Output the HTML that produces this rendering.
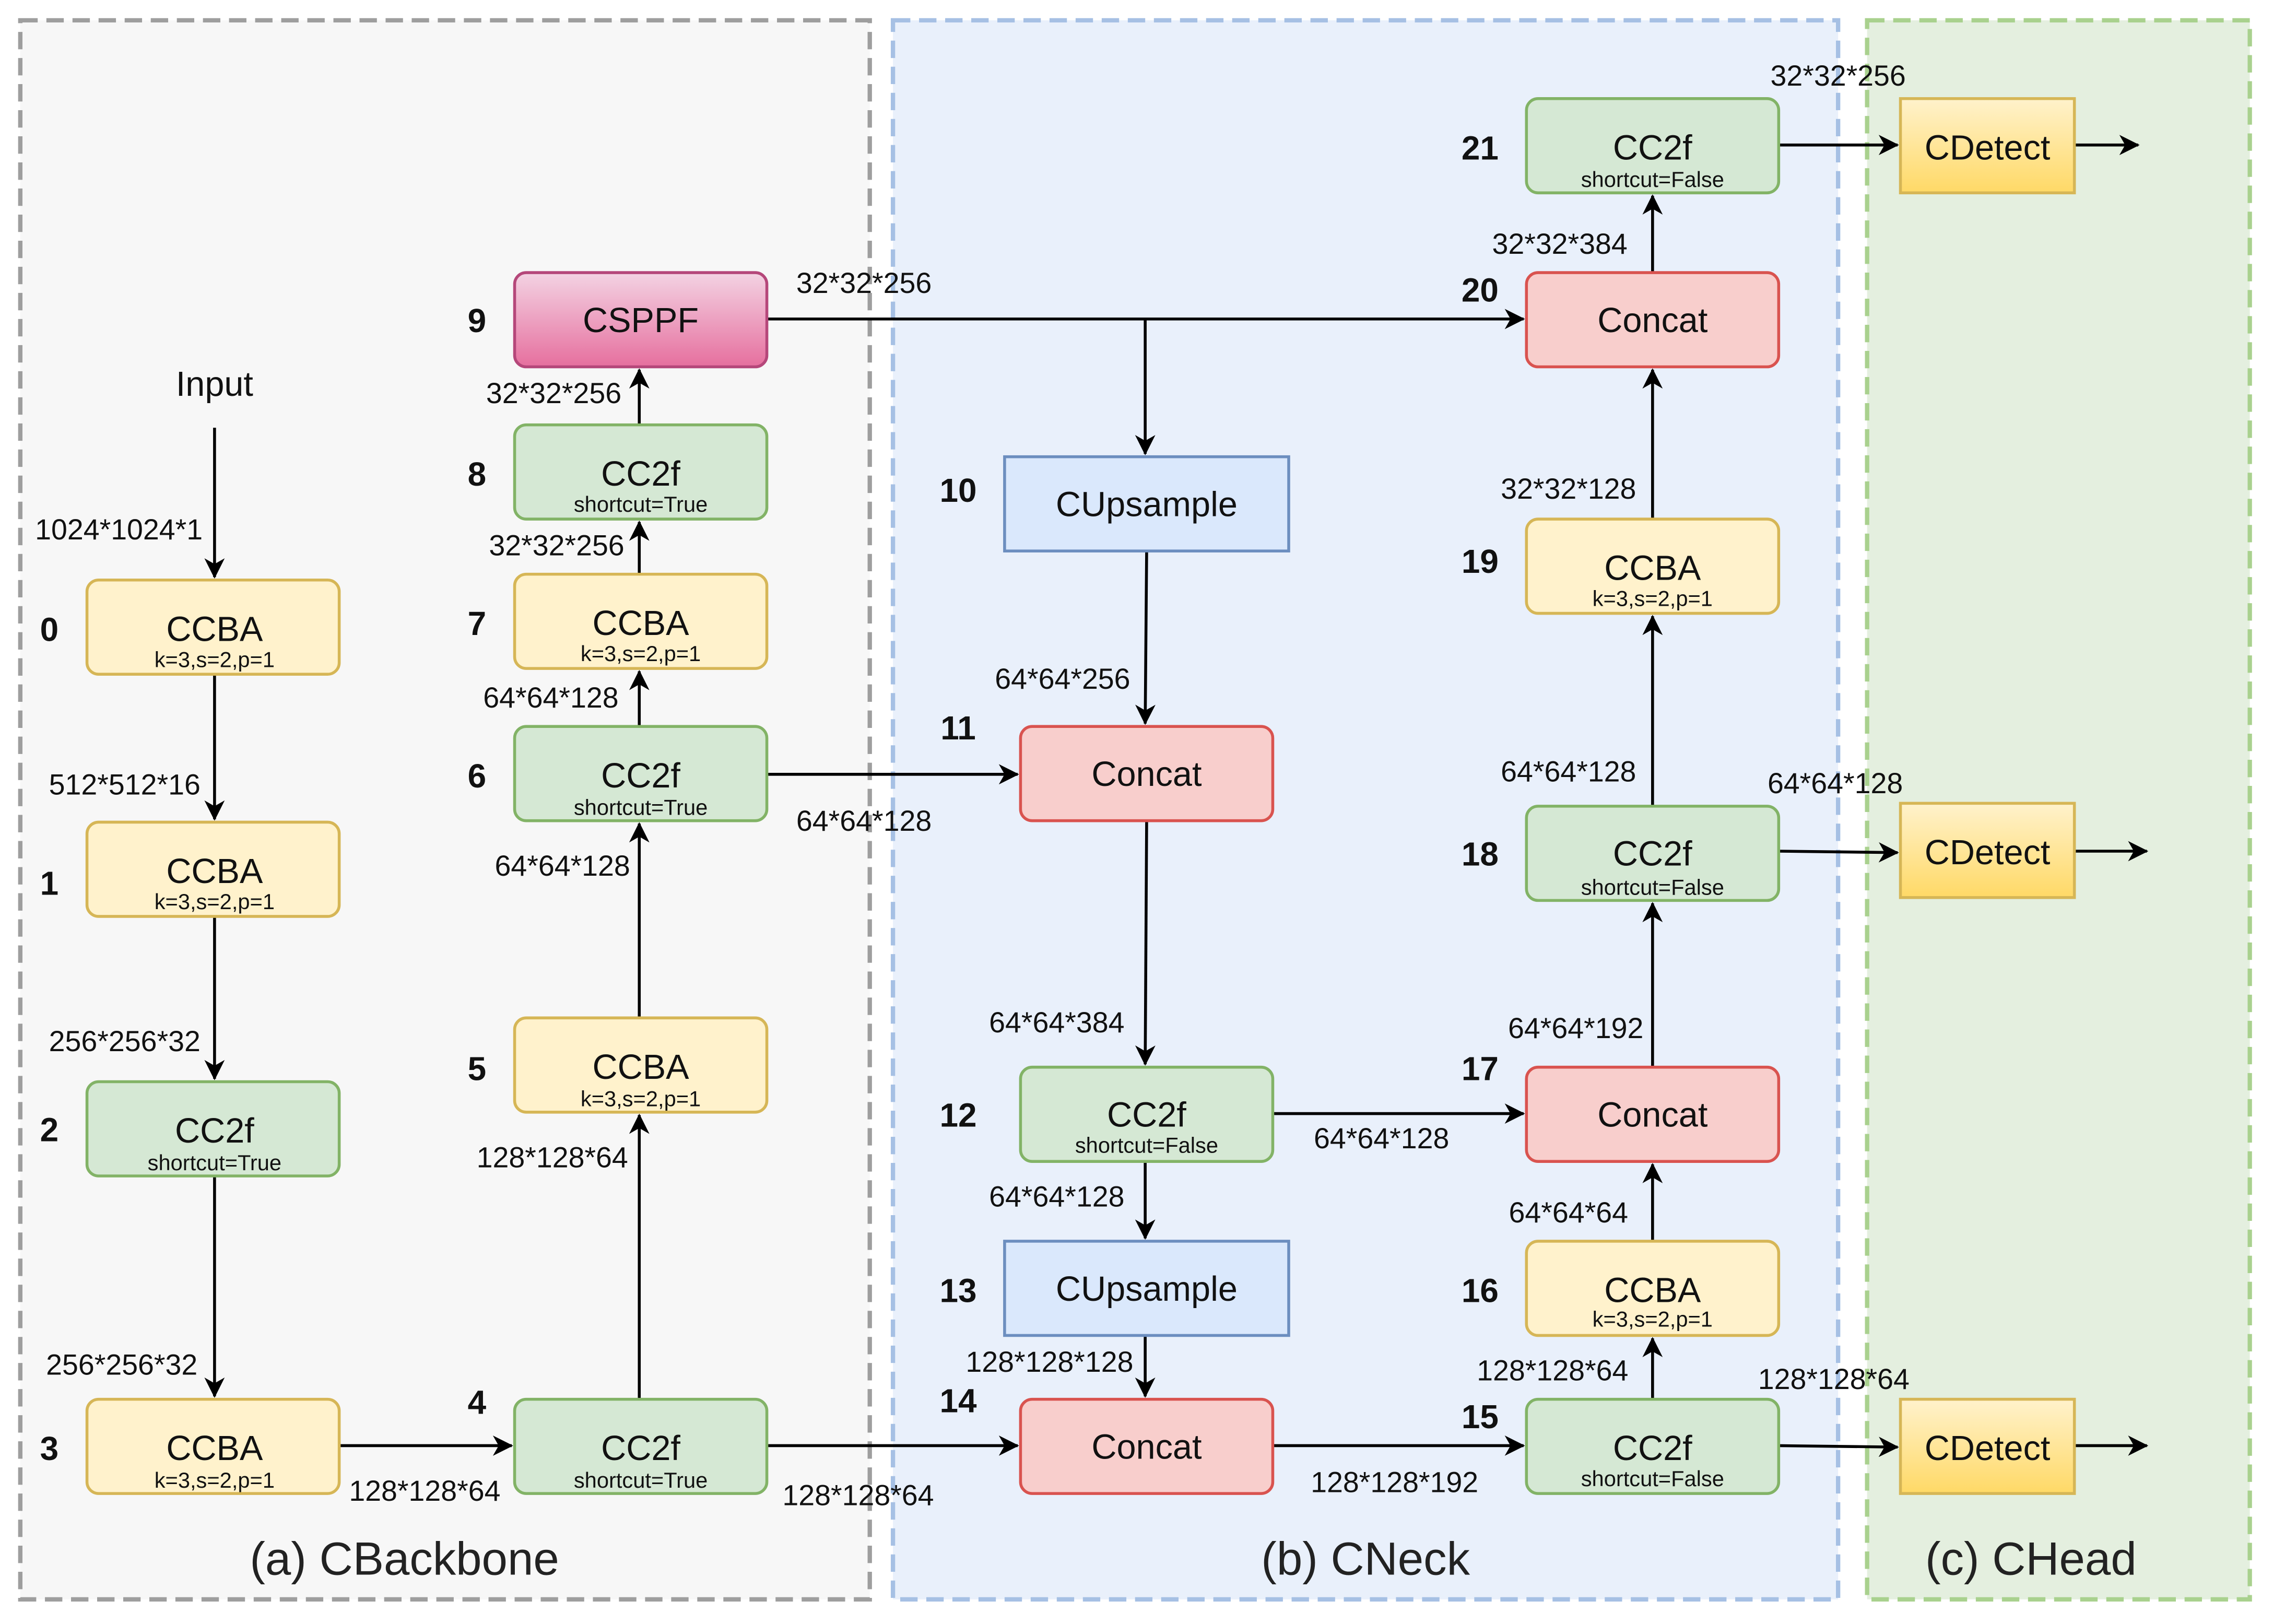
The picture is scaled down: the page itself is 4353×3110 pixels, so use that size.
<!DOCTYPE html>
<html><head><meta charset="utf-8"><style>html,body{margin:0;padding:0;background:#fff}svg{display:block}</style></head>
<body>
<svg width="4353" height="3110" viewBox="0 0 1568 1120" preserveAspectRatio="none" xmlns="http://www.w3.org/2000/svg" font-family="Liberation Sans, sans-serif">
<defs>
<marker id="a" markerWidth="14" markerHeight="14" refX="13" refY="7" orient="auto" markerUnits="userSpaceOnUse"><path d="M0,0 L14,7 L0,14 L4,7 z" fill="#000"/></marker>
<linearGradient id="gd" x1="0" y1="0" x2="0" y2="1"><stop offset="0" stop-color="#fff2cc"/><stop offset="1" stop-color="#ffd966"/></linearGradient>
<linearGradient id="gp" x1="0" y1="0" x2="0" y2="1"><stop offset="0" stop-color="#f3d3e3"/><stop offset="1" stop-color="#e66f9e"/></linearGradient>
</defs>
<rect x="14" y="14" width="586" height="1089" fill="#f7f7f7" stroke="#9e9e9e" stroke-width="3" stroke-dasharray="12,6"/>
<rect x="616" y="14" width="652" height="1089" fill="#e9f0fb" stroke="#a6c0e4" stroke-width="3" stroke-dasharray="12,6"/>
<rect x="1288" y="14" width="264" height="1089" fill="#e4efdf" stroke="#a9d18e" stroke-width="3" stroke-dasharray="12,6"/>
<g font-size="32" text-anchor="middle" fill="#222">
<text x="279" y="1086">(a) CBackbone</text><text x="942" y="1086">(b) CNeck</text><text x="1401" y="1086">(c) CHead</text></g>

<g stroke="#000" stroke-width="2" fill="none" marker-end="url(#a)">
<line x1="148" y1="295" x2="148" y2="398"/>
<line x1="148" y1="465" x2="148" y2="565"/>
<line x1="148" y1="632" x2="148" y2="744"/>
<line x1="148" y1="811" x2="148" y2="963"/>
<line x1="234" y1="997" x2="353" y2="997"/>
<line x1="441" y1="965" x2="441" y2="769"/>
<line x1="441" y1="702" x2="441" y2="568"/>
<line x1="441" y1="501" x2="441" y2="463"/>
<line x1="441" y1="396" x2="441" y2="360"/>
<line x1="441" y1="293" x2="441" y2="255"/>
<line x1="529" y1="220" x2="1051" y2="220"/>
<line x1="790" y1="220" x2="790" y2="313"/>
<line x1="791" y1="380" x2="790" y2="499"/>
<line x1="529" y1="534" x2="702" y2="534"/>
<line x1="791" y1="566" x2="790" y2="734"/>
<line x1="790" y1="801" x2="790" y2="854"/>
<line x1="790" y1="921" x2="790" y2="963"/>
<line x1="529" y1="997" x2="702" y2="997"/>
<line x1="878" y1="997" x2="1051" y2="997"/>
<line x1="878" y1="768" x2="1051" y2="768"/>
<line x1="1140" y1="965" x2="1140" y2="923"/>
<line x1="1140" y1="856" x2="1140" y2="803"/>
<line x1="1140" y1="736" x2="1140" y2="623"/>
<line x1="1140" y1="556" x2="1140" y2="425"/>
<line x1="1140" y1="358" x2="1140" y2="255"/>
<line x1="1140" y1="188" x2="1140" y2="135"/>
<line x1="1227" y1="100" x2="1309" y2="100"/>
<line x1="1227" y1="587" x2="1309" y2="588"/>
<line x1="1227" y1="997" x2="1309" y2="998"/>
<line x1="1431" y1="100" x2="1475" y2="100"/>
<line x1="1431" y1="587" x2="1481" y2="587"/>
<line x1="1431" y1="997" x2="1481" y2="997"/>
</g>

<g stroke-width="2">
<rect x="60" y="400" width="174" height="65" rx="8" fill="#fff2cc" stroke="#d6b656"/>
<rect x="60" y="567" width="174" height="65" rx="8" fill="#fff2cc" stroke="#d6b656"/>
<rect x="60" y="746" width="174" height="65" rx="8" fill="#d5e8d4" stroke="#82b366"/>
<rect x="60" y="965" width="174" height="65" rx="8" fill="#fff2cc" stroke="#d6b656"/>
<rect x="355" y="965" width="174" height="65" rx="8" fill="#d5e8d4" stroke="#82b366"/>
<rect x="355" y="702" width="174" height="65" rx="8" fill="#fff2cc" stroke="#d6b656"/>
<rect x="355" y="501" width="174" height="65" rx="8" fill="#d5e8d4" stroke="#82b366"/>
<rect x="355" y="396" width="174" height="65" rx="8" fill="#fff2cc" stroke="#d6b656"/>
<rect x="355" y="293" width="174" height="65" rx="8" fill="#d5e8d4" stroke="#82b366"/>
<rect x="355" y="188" width="174" height="65" rx="8" fill="url(#gp)" stroke="#b5477a"/>
<rect x="693" y="315" width="196" height="65" fill="#dae8fc" stroke="#6c8ebf"/>
<rect x="704" y="501" width="174" height="65" rx="8" fill="#f8cecc" stroke="#d9534f"/>
<rect x="704" y="736" width="174" height="65" rx="8" fill="#d5e8d4" stroke="#82b366"/>
<rect x="693" y="856" width="196" height="65" fill="#dae8fc" stroke="#6c8ebf"/>
<rect x="704" y="965" width="174" height="65" rx="8" fill="#f8cecc" stroke="#d9534f"/>
<rect x="1053" y="965" width="174" height="65" rx="8" fill="#d5e8d4" stroke="#82b366"/>
<rect x="1053" y="856" width="174" height="65" rx="8" fill="#fff2cc" stroke="#d6b656"/>
<rect x="1053" y="736" width="174" height="65" rx="8" fill="#f8cecc" stroke="#d9534f"/>
<rect x="1053" y="556" width="174" height="65" rx="8" fill="#d5e8d4" stroke="#82b366"/>
<rect x="1053" y="358" width="174" height="65" rx="8" fill="#fff2cc" stroke="#d6b656"/>
<rect x="1053" y="188" width="174" height="65" rx="8" fill="#f8cecc" stroke="#d9534f"/>
<rect x="1053" y="68" width="174" height="65" rx="8" fill="#d5e8d4" stroke="#82b366"/>
<rect x="1311" y="68" width="120" height="65" fill="url(#gd)" stroke="#d6b656"/>
<rect x="1311" y="554" width="120" height="65" fill="url(#gd)" stroke="#d6b656"/>
<rect x="1311" y="965" width="120" height="65" fill="url(#gd)" stroke="#d6b656"/>
</g>

<g text-anchor="middle" fill="#111">
<g font-size="24">
<text x="148" y="442">CCBA</text><text x="148" y="609">CCBA</text><text x="148" y="788">CC2f</text><text x="148" y="1007">CCBA</text>
<text x="442" y="1007">CC2f</text><text x="442" y="744">CCBA</text><text x="442" y="543">CC2f</text><text x="442" y="438">CCBA</text><text x="442" y="335">CC2f</text>
<text x="442" y="229">CSPPF</text><text x="791" y="356">CUpsample</text><text x="791" y="542">Concat</text><text x="791" y="777">CC2f</text>
<text x="791" y="897">CUpsample</text><text x="791" y="1006">Concat</text>
<text x="1140" y="1007">CC2f</text><text x="1140" y="898">CCBA</text><text x="1140" y="777">Concat</text><text x="1140" y="597">CC2f</text>
<text x="1140" y="400">CCBA</text><text x="1140" y="229">Concat</text><text x="1140" y="110">CC2f</text>
<text x="1371" y="110">CDetect</text><text x="1371" y="596">CDetect</text><text x="1371" y="1007">CDetect</text>
</g>
<g font-size="15">
<text x="148" y="460">k=3,s=2,p=1</text><text x="148" y="627">k=3,s=2,p=1</text><text x="148" y="807">shortcut=True</text><text x="148" y="1026">k=3,s=2,p=1</text>
<text x="442" y="1026">shortcut=True</text><text x="442" y="763">k=3,s=2,p=1</text><text x="442" y="562">shortcut=True</text><text x="442" y="456">k=3,s=2,p=1</text><text x="442" y="353">shortcut=True</text>
<text x="791" y="795">shortcut=False</text>
<text x="1140" y="1025">shortcut=False</text><text x="1140" y="915">k=3,s=2,p=1</text><text x="1140" y="617">shortcut=False</text><text x="1140" y="418">k=3,s=2,p=1</text><text x="1140" y="129">shortcut=False</text>
</g>
</g>

<g font-size="23" font-weight="bold" fill="#111" text-anchor="middle">
<text x="34" y="442">0</text><text x="34" y="617">1</text><text x="34" y="787">2</text><text x="34" y="1007">3</text>
<text x="329" y="975">4</text><text x="329" y="745">5</text><text x="329" y="543">6</text><text x="329" y="438">7</text><text x="329" y="335">8</text><text x="329" y="229">9</text>
<text x="661" y="346">10</text><text x="661" y="510">11</text><text x="661" y="777">12</text><text x="661" y="898">13</text><text x="661" y="974">14</text>
<text x="1021" y="985">15</text><text x="1021" y="898">16</text><text x="1021" y="745">17</text><text x="1021" y="597">18</text><text x="1021" y="395">19</text><text x="1021" y="208">20</text><text x="1021" y="110">21</text>
</g>

<g font-size="20" fill="#111" text-anchor="middle">
<text x="148" y="273" font-size="24">Input</text>
<text x="82" y="372">1024*1024*1</text>
<text x="86" y="548">512*512*16</text>
<text x="86" y="725">256*256*32</text>
<text x="84" y="948">256*256*32</text>
<text x="293" y="1035">128*128*64</text>
<text x="381" y="805">128*128*64</text>
<text x="388" y="604">64*64*128</text>
<text x="380" y="488">64*64*128</text>
<text x="384" y="383">32*32*256</text>
<text x="382" y="278">32*32*256</text>
<text x="596" y="202">32*32*256</text>
<text x="596" y="573">64*64*128</text>
<text x="592" y="1038">128*128*64</text>
<text x="733" y="475">64*64*256</text>
<text x="729" y="712">64*64*384</text>
<text x="729" y="832">64*64*128</text>
<text x="724" y="946">128*128*128</text>
<text x="953" y="792">64*64*128</text>
<text x="962" y="1029">128*128*192</text>
<text x="1071" y="952">128*128*64</text>
<text x="1082" y="843">64*64*64</text>
<text x="1087" y="716">64*64*192</text>
<text x="1082" y="539">64*64*128</text>
<text x="1082" y="344">32*32*128</text>
<text x="1076" y="175">32*32*384</text>
<text x="1268" y="59">32*32*256</text>
<text x="1266" y="547">64*64*128</text>
<text x="1265" y="958">128*128*64</text>
</g>
</svg>
</body></html>
